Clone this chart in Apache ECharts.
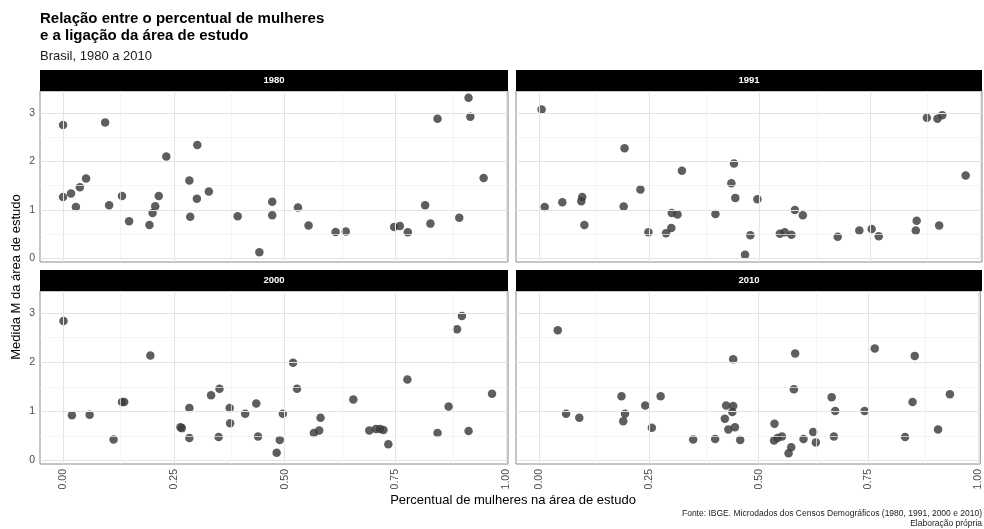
<!DOCTYPE html>
<html>
<head>
<meta charset="utf-8">
<script src="https://cdn.jsdelivr.net/npm/echarts@6/dist/echarts.min.js"></script>
<style>
  html, body { margin: 0; padding: 0; background: #ffffff; }
  #chart { width: 984px; height: 529px; }
</style>
</head>
<body>
<div id="chart"></div>
<script>
// Percentual de mulheres (x) e medida M (y) por área de estudo, por ano de censo
const years = ['1980', '1991', '2000', '2010'];

const pct1980 = [0.00, 0.095, 0.00, 0.018, 0.038, 0.052, 0.029, 0.104, 0.133, 0.149, 0.195, 0.202, 0.208, 0.216, 0.233, 0.285, 0.303, 0.302, 0.287, 0.329, 0.394, 0.443, 0.472, 0.472, 0.530, 0.554, 0.615, 0.638, 0.747, 0.760, 0.778, 0.817, 0.829, 0.845, 0.894, 0.915, 0.919, 0.949];
const med1980 = [2.75, 2.80, 1.27, 1.34, 1.47, 1.65, 1.06, 1.10, 1.29, 0.77, 0.69, 0.94, 1.08, 1.29, 2.10, 1.61, 2.34, 1.23, 0.86, 1.38, 0.87, 0.13, 1.17, 0.89, 1.05, 0.68, 0.55, 0.56, 0.65, 0.67, 0.54, 1.10, 0.72, 2.88, 0.84, 3.31, 2.92, 1.66];

const pct1991 = [0.006, 0.013, 0.053, 0.098, 0.096, 0.103, 0.194, 0.192, 0.230, 0.248, 0.288, 0.300, 0.301, 0.314, 0.324, 0.400, 0.442, 0.436, 0.445, 0.479, 0.467, 0.495, 0.580, 0.598, 0.546, 0.557, 0.572, 0.677, 0.726, 0.754, 0.770, 0.856, 0.854, 0.907, 0.879, 0.903, 0.914, 0.967];
const med1991 = [3.07, 1.06, 1.16, 1.27, 1.18, 0.69, 2.27, 1.07, 1.42, 0.54, 0.52, 0.63, 0.94, 0.91, 1.81, 0.92, 1.96, 1.55, 1.25, 0.48, 0.08, 1.22, 1.00, 0.89, 0.51, 0.54, 0.49, 0.45, 0.58, 0.61, 0.46, 0.78, 0.58, 0.68, 2.90, 2.88, 2.95, 1.71];

const pct2000 = [0.001, 0.020, 0.060, 0.114, 0.133, 0.138, 0.197, 0.265, 0.268, 0.285, 0.285, 0.334, 0.353, 0.351, 0.376, 0.377, 0.411, 0.436, 0.440, 0.482, 0.489, 0.496, 0.519, 0.528, 0.566, 0.578, 0.581, 0.655, 0.691, 0.706, 0.715, 0.723, 0.734, 0.777, 0.845, 0.870, 0.889, 0.900, 0.915, 0.968];
const med2000 = [2.84, 0.92, 0.93, 0.43, 1.19, 1.19, 2.14, 0.68, 0.66, 1.07, 0.46, 1.33, 1.46, 0.48, 1.07, 0.76, 0.95, 1.16, 0.49, 0.16, 0.42, 0.95, 1.99, 1.46, 0.56, 0.61, 0.87, 1.24, 0.61, 0.64, 0.64, 0.62, 0.33, 1.65, 0.56, 1.10, 2.67, 2.94, 0.60, 1.36];

const pct2010 = [0.043, 0.062, 0.092, 0.188, 0.196, 0.192, 0.242, 0.277, 0.257, 0.351, 0.401, 0.442, 0.426, 0.442, 0.440, 0.423, 0.431, 0.446, 0.458, 0.536, 0.535, 0.543, 0.553, 0.568, 0.574, 0.580, 0.583, 0.602, 0.624, 0.630, 0.666, 0.674, 0.671, 0.741, 0.764, 0.833, 0.850, 0.855, 0.908, 0.935];
const med2010 = [2.65, 0.95, 0.87, 1.31, 0.95, 0.80, 1.12, 1.31, 0.67, 0.43, 0.44, 2.06, 1.12, 1.11, 0.99, 0.85, 0.63, 0.68, 0.42, 0.75, 0.41, 0.46, 0.49, 0.15, 0.27, 1.45, 2.18, 0.44, 0.58, 0.37, 1.29, 1.01, 0.49, 1.01, 2.28, 0.48, 1.19, 2.13, 0.63, 1.35];

// Marcas dos eixos
const xTicks = [0, 0.25, 0.5, 0.75, 1];
const xMinorTicks = [0.125, 0.375, 0.625, 0.875];
const yTicks = [0, 1, 2, 3];
const yMinorTicks = [0.5, 1.5, 2.5];

const pctByPanel = [pct1980, pct1991, pct2000, pct2010];
const medByPanel = [med1980, med1991, med2000, med2010];

const FONT = 'Liberation Sans';
const X_MIN = -0.052, X_MAX = 1.004;
const Y_MIN = -0.07, Y_MAX = 3.45;
const STRIP_H = 21;

// Facetas 2x2
const boxes = [
  { left: 40,  top: 91,  width: 468, height: 171 },
  { left: 516, top: 91,  width: 466, height: 171 },
  { left: 40,  top: 291, width: 468, height: 173 },
  { left: 516, top: 291, width: 466, height: 173 }
];

const grids = boxes.map(b => ({
  left: b.left, top: b.top, width: b.width, height: b.height,
  show: true, backgroundColor: '#ffffff', borderColor: '#8a8a8a', borderWidth: 1,
  containLabel: false
}));

const xAxes = boxes.map((b, i) => {
  const bottomRow = i >= 2;
  return {
    type: 'value', gridIndex: i, min: X_MIN, max: X_MAX,
    splitLine: { show: false },
    axisLine: { show: false },
    axisTick: { show: bottomRow, customValues: xTicks, length: 3, lineStyle: { color: '#333333', width: 1 } },
    axisLabel: {
      show: bottomRow, customValues: xTicks, rotate: 90, margin: 5,
      fontFamily: FONT, fontSize: 10.5, color: '#4d4d4d',
      formatter: v => v.toFixed(2)
    }
  };
});

const yAxes = boxes.map((b, i) => {
  const leftCol = i % 2 === 0;
  return {
    type: 'value', gridIndex: i, min: Y_MIN, max: Y_MAX,
    splitLine: { show: false },
    axisLine: { show: false },
    axisTick: { show: leftCol, customValues: yTicks, length: 3, lineStyle: { color: '#333333', width: 1 } },
    axisLabel: {
      show: leftCol, customValues: yTicks, margin: 5,
      fontFamily: FONT, fontSize: 10.5, color: '#4d4d4d',
      formatter: v => String(v)
    }
  };
});

function gridLines(i) {
  const major = { color: '#e4e4e4', width: 1, type: 'solid' };
  const minor = { color: '#f0f0f0', width: 0.7, type: 'solid' };
  const data = [];
  xMinorTicks.forEach(v => data.push({ xAxis: v, lineStyle: minor }));
  yMinorTicks.forEach(v => data.push({ yAxis: v, lineStyle: minor }));
  xTicks.forEach(v => data.push({ xAxis: v, lineStyle: major }));
  yTicks.forEach(v => data.push({ yAxis: v, lineStyle: major }));
  return {
    type: 'line', xAxisIndex: i, yAxisIndex: i, data: [], z: 1, silent: true,
    markLine: {
      silent: true, symbol: ['none', 'none'], label: { show: false },
      animation: false, data: data
    }
  };
}

const series = [];
boxes.forEach((b, i) => {
  series.push(gridLines(i));
  const pts = pctByPanel[i].map((x, k) => [x, medByPanel[i][k]]);
  series.push({
    type: 'scatter', name: years[i], xAxisIndex: i, yAxisIndex: i, z: 3,
    data: pts, symbol: 'circle', symbolSize: 8.5,
    itemStyle: { color: '#3a3a3a', opacity: 0.82 }
  });
});

// Faixas com o ano sobre cada faceta
const graphics = [];
boxes.forEach((b, i) => {
  graphics.push({
    type: 'rect', left: b.left, top: b.top - STRIP_H, silent: true,
    shape: { width: b.width, height: STRIP_H },
    style: { fill: '#000000' }
  });
  graphics.push({
    type: 'text', silent: true,
    x: b.left + b.width / 2, y: b.top - STRIP_H / 2,
    style: {
      text: years[i], fill: '#ffffff', font: 'bold 9.5px "' + FONT + '"',
      textAlign: 'center', textVerticalAlign: 'middle'
    }
  });
});

// Títulos e rótulos
graphics.push(
  { type: 'text', x: 40, y: 10, silent: true,
    style: { text: 'Relação entre o percentual de mulheres\ne a ligação da área de estudo',
      font: 'bold 15px "' + FONT + '"', fill: '#000000', lineHeight: 17 } },
  { type: 'text', x: 40, y: 50, silent: true,
    style: { text: 'Brasil, 1980 a 2010', font: '13px "' + FONT + '"', fill: '#1a1a1a' } },
  { type: 'text', x: 513, y: 500, silent: true,
    style: { text: 'Percentual de mulheres na área de estudo', font: '13px "' + FONT + '"',
      fill: '#000000', textAlign: 'center', textVerticalAlign: 'middle' } },
  { type: 'text', x: 16, y: 277, rotation: Math.PI / 2, silent: true,
    style: { text: 'Medida M da área de estudo', font: '13px "' + FONT + '"',
      fill: '#000000', textAlign: 'center', textVerticalAlign: 'middle' } },
  { type: 'text', x: 982, y: 514, silent: true,
    style: { text: 'Fonte: IBGE. Microdados dos Censos Demográficos (1980, 1991, 2000 e 2010)',
      font: '8.5px "' + FONT + '"', fill: '#1a1a1a', textAlign: 'right', textVerticalAlign: 'middle' } },
  { type: 'text', x: 982, y: 524, silent: true,
    style: { text: 'Elaboração própria', font: '8.5px "' + FONT + '"', fill: '#1a1a1a',
      textAlign: 'right', textVerticalAlign: 'middle' } }
);

const chart = echarts.init(document.getElementById('chart'), null, { renderer: 'canvas', width: 984, height: 529 });
chart.setOption({
  animation: false,
  backgroundColor: '#ffffff',
  grid: grids,
  xAxis: xAxes,
  yAxis: yAxes,
  series: series,
  graphic: graphics
});
</script>
</body>
</html>
